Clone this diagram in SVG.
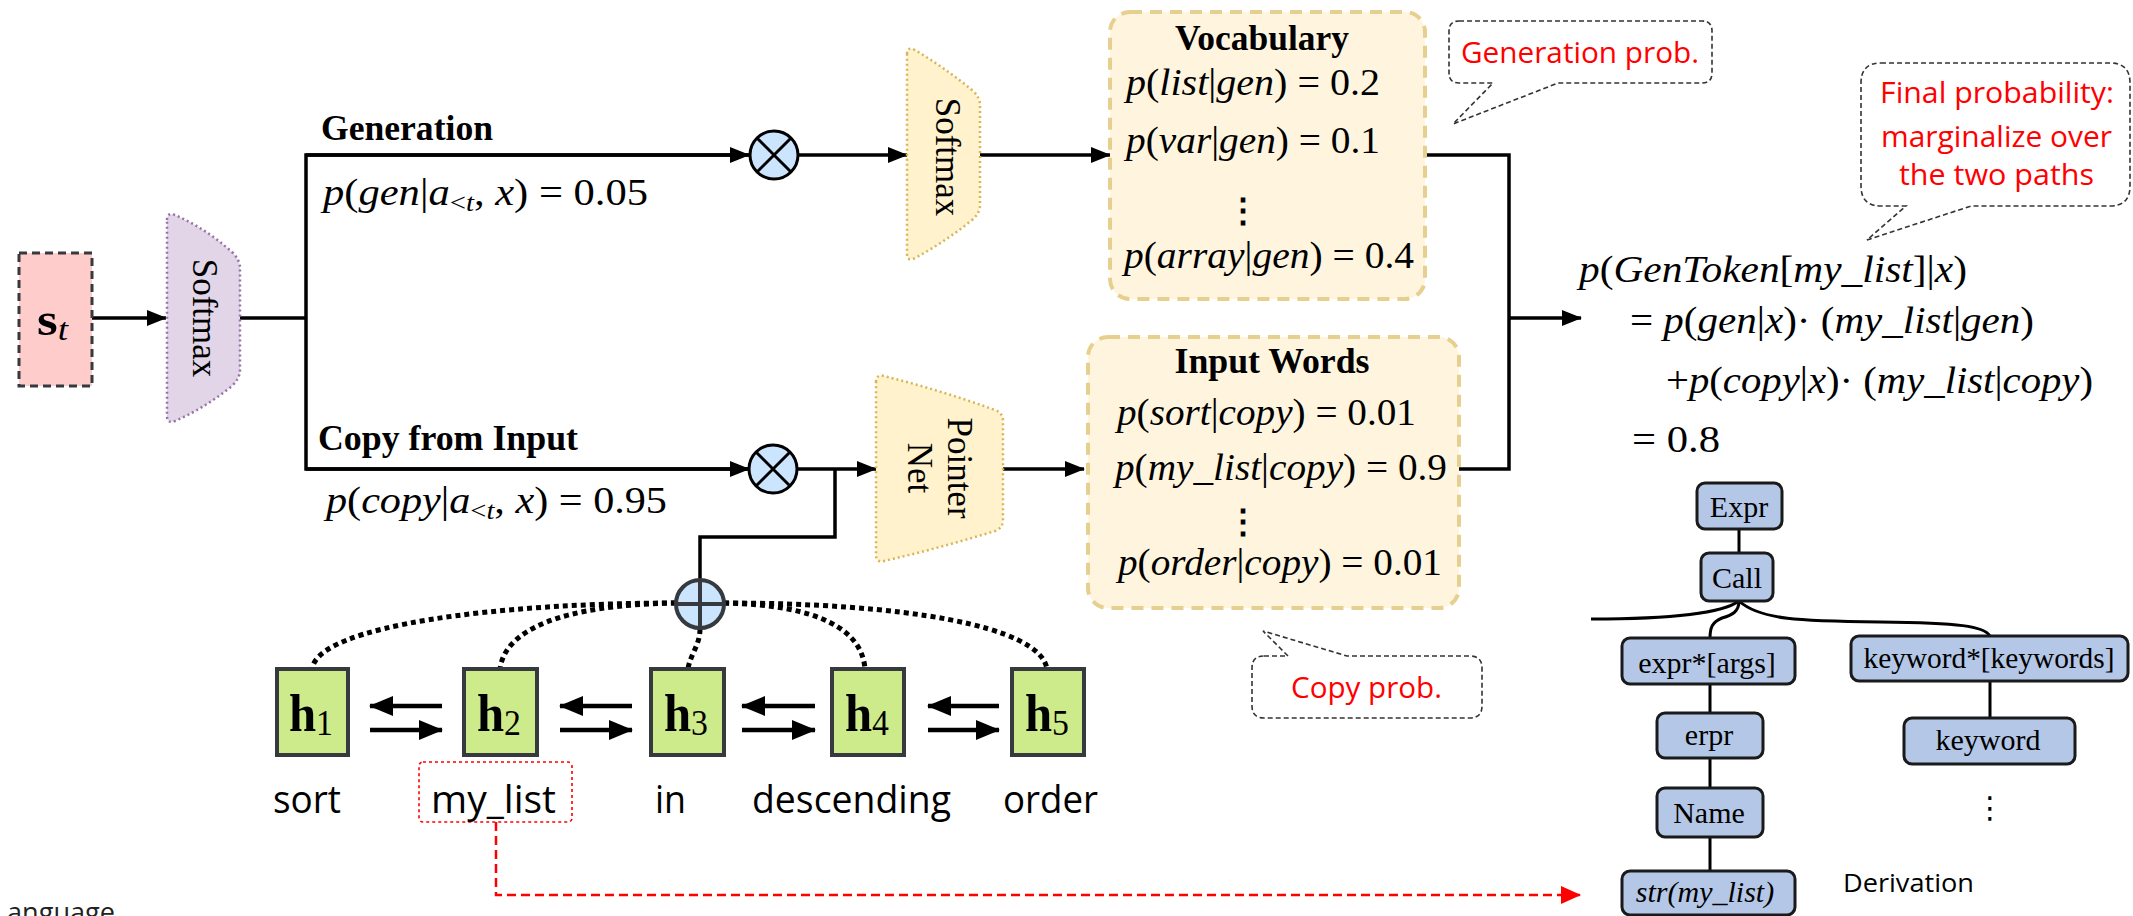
<svg xmlns="http://www.w3.org/2000/svg" width="2133" height="916" viewBox="0 0 2133 916">
<style>
.ln{fill:none;stroke:#000;stroke-width:3.5}
.m{font-family:"Liberation Serif",serif;font-size:37px;fill:#000}
.i{font-style:italic}
.sub{font-size:25px}
.hd{font-family:"Liberation Serif",serif;font-size:35px;font-weight:bold;fill:#000}
.rot{font-family:"Liberation Serif",serif;font-size:35px;fill:#000}
.w{font-family:"Open Sans",sans-serif;font-size:39px;fill:#000}
.red{font-family:"Open Sans",sans-serif;font-size:30px;fill:#ff0000}
.call{fill:#fff;stroke:#333;stroke-width:1.6;stroke-dasharray:5,3}
.prob{fill:#fff5df;stroke:#e6d08f;stroke-width:4;stroke-dasharray:12,8}
.yel{fill:#fff2cc;stroke:#d6b656;stroke-width:2.5;stroke-dasharray:2,3}
.hb{fill:#cdeb8b;stroke:#36393d;stroke-width:4}
.hl{font-family:"Liberation Serif",serif;font-size:52px;font-weight:bold;fill:#000}
.tb{fill:#b4c7e7;stroke:#1a1a1a;stroke-width:3}
.tt{font-family:"Liberation Serif",serif;font-size:30px;fill:#000}
.dot{fill:none;stroke:#000;stroke-width:5;stroke-dasharray:5,4}
.ha{fill:none;stroke:#000;stroke-width:4.5}
</style>
<defs>
<marker id="ah" markerUnits="userSpaceOnUse" markerWidth="20" markerHeight="16" refX="19" refY="8" orient="auto"><path d="M0,0 L20,8 L0,16 z" fill="#000"/></marker>
<marker id="ahb" markerUnits="userSpaceOnUse" markerWidth="24" markerHeight="20" refX="23" refY="10" orient="auto"><path d="M0,0 L24,10 L0,20 z" fill="#000"/></marker>
<marker id="ahr" markerUnits="userSpaceOnUse" markerWidth="20" markerHeight="18" refX="19" refY="9" orient="auto"><path d="M0,0 L20,9 L0,18 z" fill="#ff0000"/></marker>
</defs>

<g id="connectors">
<line class="ln" x1="92" y1="318" x2="166" y2="318" marker-end="url(#ah)"/>
<polyline class="ln" points="240,318 306,318"/>
<polyline class="ln" points="749,155 306,155 306,469 749,469"/>
<line class="ln" x1="306" y1="155" x2="749" y2="155" marker-end="url(#ah)"/>
<line class="ln" x1="306" y1="469" x2="749" y2="469" marker-end="url(#ah)"/>
<line class="ln" x1="798" y1="155" x2="907" y2="155" marker-end="url(#ah)"/>
<line class="ln" x1="980" y1="155" x2="1110" y2="155" marker-end="url(#ah)"/>
<line class="ln" x1="798" y1="469" x2="876" y2="469" marker-end="url(#ah)"/>
<polyline class="ln" points="835,469 835,537 700,537 700,580"/>
<line class="ln" x1="1003" y1="469" x2="1084" y2="469" marker-end="url(#ah)"/>
<polyline class="ln" points="1425,155 1509,155 1509,469 1459,469"/>
<line class="ln" x1="1509" y1="318" x2="1581" y2="318" marker-end="url(#ah)"/>
<path class="dot" d="M676,603 C500,603 318,625 312,669"/>
<path class="dot" d="M676,603 C560,605 505,630 500,669"/>
<path class="dot" d="M700,629 C700,645 690,655 688,669"/>
<path class="dot" d="M724,603 C820,605 862,630 865,669"/>
<path class="dot" d="M724,603 C900,603 1040,625 1047,669"/>
<line class="ha" x1="442" y1="706" x2="370" y2="706" marker-end="url(#ahb)"/>
<line class="ha" x1="370" y1="730" x2="442" y2="730" marker-end="url(#ahb)"/>
<line class="ha" x1="632" y1="706" x2="560" y2="706" marker-end="url(#ahb)"/>
<line class="ha" x1="560" y1="730" x2="632" y2="730" marker-end="url(#ahb)"/>
<line class="ha" x1="815" y1="706" x2="742" y2="706" marker-end="url(#ahb)"/>
<line class="ha" x1="742" y1="730" x2="815" y2="730" marker-end="url(#ahb)"/>
<line class="ha" x1="999" y1="706" x2="928" y2="706" marker-end="url(#ahb)"/>
<line class="ha" x1="928" y1="730" x2="999" y2="730" marker-end="url(#ahb)"/>
<polyline points="496,822 496,895 1580,895" fill="none" stroke="#ff0000" stroke-width="2.5" stroke-dasharray="9,5" marker-end="url(#ahr)"/>
<line x1="1739" y1="529" x2="1739" y2="553" stroke="#000" stroke-width="3"/>
<path d="M1739,601 C1720,615 1660,619 1591,619" fill="none" stroke="#000" stroke-width="3"/>
<path d="M1739,601 C1739,612 1732,615 1722,618 C1712,622 1710,628 1710,638" fill="none" stroke="#000" stroke-width="3"/>
<path d="M1739,601 C1760,620 1800,621 1880,622 C1960,623 1984,626 1990,636" fill="none" stroke="#000" stroke-width="3"/>
<line x1="1710" y1="684" x2="1710" y2="713" stroke="#000" stroke-width="3"/>
<line x1="1710" y1="758" x2="1710" y2="788" stroke="#000" stroke-width="3"/>
<line x1="1710" y1="837" x2="1710" y2="871" stroke="#000" stroke-width="3"/>
<line x1="1990" y1="681" x2="1990" y2="718" stroke="#000" stroke-width="3"/>
</g>

<g id="st">
<rect x="19" y="253" width="73" height="133" fill="#ffcccc" stroke="#36393d" stroke-width="3" stroke-dasharray="8,5"/>
<text x="37" y="335" font-family="Liberation Serif,serif" font-size="46" font-weight="bold" textLength="31" lengthAdjust="spacingAndGlyphs">s<tspan font-size="32" font-weight="normal" font-style="italic" dy="5">t</tspan></text>
</g>

<g id="softmax1">
<path d="M167,220 Q167,212 175,215 Q205,228 232,252 Q240,260 240,268 V370 Q240,378 232,386 Q205,408 175,421 Q167,424 167,416 Z" fill="#e1d5e7" stroke="#9673a6" stroke-width="2.5" stroke-dasharray="2,3"/>
<text class="rot" text-anchor="middle" transform="translate(205,318) rotate(90)" y="12">Softmax</text>
</g>

<g id="labels">
<text class="hd" x="321" y="140" textLength="172" lengthAdjust="spacingAndGlyphs">Generation</text>
<text class="m" x="323" y="205" textLength="325" lengthAdjust="spacingAndGlyphs"><tspan class="i">p</tspan>(<tspan class="i">gen</tspan>|<tspan class="i">a</tspan><tspan class="sub" dy="6">&lt;<tspan class="i">t</tspan></tspan><tspan dy="-6">, </tspan><tspan class="i">x</tspan>) = 0.05</text>
<text class="hd" x="318" y="450" textLength="260" lengthAdjust="spacingAndGlyphs">Copy from Input</text>
<text class="m" x="326" y="513" textLength="341" lengthAdjust="spacingAndGlyphs"><tspan class="i">p</tspan>(<tspan class="i">copy</tspan>|<tspan class="i">a</tspan><tspan class="sub" dy="6">&lt;<tspan class="i">t</tspan></tspan><tspan dy="-6">, </tspan><tspan class="i">x</tspan>) = 0.95</text>
</g>

<g id="mul1">
<circle cx="774" cy="155" r="24" fill="#cce5ff" stroke="#000" stroke-width="3"/>
<path d="M757,138 L791,172 M791,138 L757,172" stroke="#000" stroke-width="3"/>
</g>
<g id="mul2">
<circle cx="773" cy="469" r="24" fill="#cce5ff" stroke="#000" stroke-width="3"/>
<path d="M756,452 L790,486 M790,452 L756,486" stroke="#000" stroke-width="3"/>
</g>

<g id="softmax2">
<path d="M907,54 Q907,46 915,50 Q945,68 972,90 Q980,97 980,105 V205 Q980,213 972,220 Q945,242 915,258 Q907,262 907,254 Z" class="yel"/>
<text class="rot" text-anchor="middle" transform="translate(948,157) rotate(90)" y="12">Softmax</text>
</g>

<g id="pointernet">
<path d="M876,382 Q876,374 884,376 Q940,390 995,410 Q1003,413 1003,421 V520 Q1003,528 995,531 Q940,548 884,561 Q876,563 876,555 Z" class="yel"/>
<text class="rot" text-anchor="middle" transform="translate(940,468) rotate(90)"><tspan x="0" y="-8">Pointer</tspan><tspan x="0" y="32">Net</tspan></text>
</g>

<g id="vocab">
<rect class="prob" x="1110" y="12" width="315" height="287" rx="20"/>
<text class="hd" x="1262" y="50" text-anchor="middle" textLength="174" lengthAdjust="spacingAndGlyphs">Vocabulary</text>
<text class="m" x="1126" y="95" textLength="254" lengthAdjust="spacingAndGlyphs"><tspan class="i">p</tspan>(<tspan class="i">list</tspan>|<tspan class="i">gen</tspan>) = 0.2</text>
<text class="m" x="1126" y="153" textLength="254" lengthAdjust="spacingAndGlyphs"><tspan class="i">p</tspan>(<tspan class="i">var</tspan>|<tspan class="i">gen</tspan>) = 0.1</text>
<text x="1243" y="222" text-anchor="middle" font-family="DejaVu Serif,serif" font-size="34" font-weight="bold">⋮</text>
<text class="m" x="1124" y="268" textLength="290" lengthAdjust="spacingAndGlyphs"><tspan class="i">p</tspan>(<tspan class="i">array</tspan>|<tspan class="i">gen</tspan>) = 0.4</text>
</g>

<g id="inputwords">
<rect class="prob" x="1088" y="337" width="371" height="271" rx="20"/>
<text class="hd" x="1272" y="373" text-anchor="middle" textLength="195" lengthAdjust="spacingAndGlyphs">Input Words</text>
<text class="m" x="1117" y="425" textLength="299" lengthAdjust="spacingAndGlyphs"><tspan class="i">p</tspan>(<tspan class="i">sort</tspan>|<tspan class="i">copy</tspan>) = 0.01</text>
<text class="m" x="1115" y="480" textLength="332" lengthAdjust="spacingAndGlyphs"><tspan class="i">p</tspan>(<tspan class="i">my_list</tspan>|<tspan class="i">copy</tspan>) = 0.9</text>
<text x="1243" y="533" text-anchor="middle" font-family="DejaVu Serif,serif" font-size="34" font-weight="bold">⋮</text>
<text class="m" x="1118" y="575" textLength="324" lengthAdjust="spacingAndGlyphs"><tspan class="i">p</tspan>(<tspan class="i">order</tspan>|<tspan class="i">copy</tspan>) = 0.01</text>
</g>

<g id="genprob">
<path class="call" d="M1459,21 H1702 Q1712,21 1712,31 V73 Q1712,83 1702,83 H1558 L1453,124 L1493,83 H1459 Q1449,83 1449,73 V31 Q1449,21 1459,21 Z"/>
<text class="red" x="1461" y="63" textLength="238" lengthAdjust="spacingAndGlyphs">Generation prob.</text>
</g>

<g id="finalprob">
<path class="call" d="M1881,63 H2110 Q2130,63 2130,83 V186 Q2130,206 2110,206 H1971 L1867,240 L1906,206 H1881 Q1861,206 1861,186 V83 Q1861,63 1881,63 Z"/>
<text class="red" x="1880" y="103" textLength="234" lengthAdjust="spacingAndGlyphs">Final probability:</text>
<text class="red" x="1881" y="147" textLength="231" lengthAdjust="spacingAndGlyphs">marginalize over</text>
<text class="red" x="1899" y="185" textLength="195" lengthAdjust="spacingAndGlyphs">the two paths</text>
</g>

<g id="copyprob">
<path class="call" d="M1264,656 H1288 L1263,631 L1347,656 H1470 Q1482,656 1482,668 V706 Q1482,718 1470,718 H1264 Q1252,718 1252,706 V668 Q1252,656 1264,656 Z"/>
<text class="red" x="1291" y="698" textLength="151" lengthAdjust="spacingAndGlyphs">Copy prob.</text>
</g>

<g id="formula">
<text class="m" x="1579" y="282" textLength="388" lengthAdjust="spacingAndGlyphs"><tspan class="i">p</tspan>(<tspan class="i">GenToken</tspan>[<tspan class="i">my_list</tspan>]|<tspan class="i">x</tspan>)</text>
<text class="m" x="1630" y="333" textLength="404" lengthAdjust="spacingAndGlyphs">= <tspan class="i">p</tspan>(<tspan class="i">gen</tspan>|<tspan class="i">x</tspan>)· (<tspan class="i">my_list</tspan>|<tspan class="i">gen</tspan>)</text>
<text class="m" x="1666" y="393" textLength="427" lengthAdjust="spacingAndGlyphs">+<tspan class="i">p</tspan>(<tspan class="i">copy</tspan>|<tspan class="i">x</tspan>)· (<tspan class="i">my_list</tspan>|<tspan class="i">copy</tspan>)</text>
<text class="m" x="1632" y="452" textLength="88" lengthAdjust="spacingAndGlyphs">= 0.8</text>
</g>

<g id="plus">
<circle cx="700" cy="604" r="24" fill="#cce5ff" stroke="#36393d" stroke-width="4"/>
<path d="M676,604 H724 M700,580 V628" stroke="#36393d" stroke-width="4"/>
</g>

<g id="h1"><rect class="hb" x="277" y="669" width="71" height="86"/><text class="hl" x="289" y="731" textLength="44" lengthAdjust="spacingAndGlyphs">h<tspan font-size="36" font-weight="normal" dy="4">1</tspan></text></g>
<g id="h2"><rect class="hb" x="464" y="669" width="73" height="86"/><text class="hl" x="477" y="731" textLength="44" lengthAdjust="spacingAndGlyphs">h<tspan font-size="36" font-weight="normal" dy="4">2</tspan></text></g>
<g id="h3"><rect class="hb" x="651" y="669" width="73" height="86"/><text class="hl" x="664" y="731" textLength="44" lengthAdjust="spacingAndGlyphs">h<tspan font-size="36" font-weight="normal" dy="4">3</tspan></text></g>
<g id="h4"><rect class="hb" x="832" y="669" width="72" height="86"/><text class="hl" x="845" y="731" textLength="44" lengthAdjust="spacingAndGlyphs">h<tspan font-size="36" font-weight="normal" dy="4">4</tspan></text></g>
<g id="h5"><rect class="hb" x="1012" y="669" width="72" height="86"/><text class="hl" x="1025" y="731" textLength="44" lengthAdjust="spacingAndGlyphs">h<tspan font-size="36" font-weight="normal" dy="4">5</tspan></text></g>

<g id="words">
<text class="w" x="273" y="813" textLength="68" lengthAdjust="spacingAndGlyphs">sort</text>
<rect x="419" y="762" width="153" height="60" rx="4" fill="none" stroke="#ff0000" stroke-width="1.6" stroke-dasharray="3,3"/>
<text class="w" x="431" y="813" textLength="125" lengthAdjust="spacingAndGlyphs">my_list</text>
<text class="w" x="655" y="813" textLength="31" lengthAdjust="spacingAndGlyphs">in</text>
<text class="w" x="752" y="813" textLength="199" lengthAdjust="spacingAndGlyphs">descending</text>
<text class="w" x="1003" y="813" textLength="95" lengthAdjust="spacingAndGlyphs">order</text>
<text x="7" y="922" font-family="Open Sans,sans-serif" font-size="28" fill="#222" textLength="108" lengthAdjust="spacingAndGlyphs">anguage</text>
</g>

<g id="tree">
<g id="t-expr"><rect class="tb" x="1697" y="483" width="85" height="46" rx="8"/><text class="tt" x="1739" y="517" text-anchor="middle">Expr</text></g>
<g id="t-call"><rect class="tb" x="1701" y="553" width="72" height="48" rx="8"/><text class="tt" x="1737" y="588" text-anchor="middle">Call</text></g>
<g id="t-args"><rect class="tb" x="1622" y="638" width="173" height="46" rx="8"/><text class="tt" x="1707" y="673" text-anchor="middle">expr*[args]</text></g>
<g id="t-kws"><rect class="tb" x="1851" y="636" width="277" height="45" rx="8"/><text class="tt" x="1989" y="668" text-anchor="middle" textLength="251" lengthAdjust="spacingAndGlyphs">keyword*[keywords]</text></g>
<g id="t-erpr"><rect class="tb" x="1657" y="713" width="106" height="45" rx="8"/><text class="tt" x="1709" y="745" text-anchor="middle">erpr</text></g>
<g id="t-name"><rect class="tb" x="1657" y="788" width="106" height="49" rx="8"/><text class="tt" x="1709" y="823" text-anchor="middle">Name</text></g>
<g id="t-str"><rect class="tb" x="1622" y="871" width="173" height="44" rx="8"/><text class="tt i" x="1705" y="902" text-anchor="middle">str(my_list)</text></g>
<g id="t-kw"><rect class="tb" x="1904" y="718" width="171" height="46" rx="8"/><text class="tt" x="1988" y="750" text-anchor="middle">keyword</text></g>
<text x="1990" y="818" text-anchor="middle" font-family="DejaVu Sans,sans-serif" font-size="30">⋮</text>
<text x="1843" y="892" font-family="Open Sans,sans-serif" font-size="26" fill="#000" textLength="131" lengthAdjust="spacingAndGlyphs">Derivation</text>
</g>
</svg>
